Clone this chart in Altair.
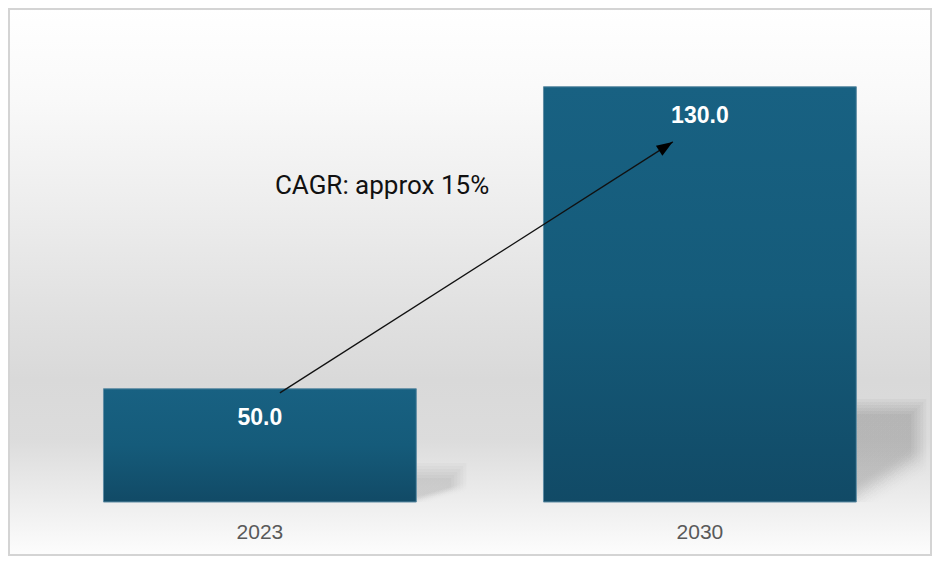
import altair as alt
import pandas as pd

# ---- data ----
years = ["2023", "2030"]
values = [50.0, 130.0]
value_labels = ["50.0", "130.0"]
base_values = [20.0, 20.0]
y_domain = [20, 150.86]

# soft shadow behind each bar (tops in value units, stacked blur layers)
shadow_tops_2023 = [30.33, 29.54, 28.74, 27.95, 27.15, 26.36]
shadow_tops_2030 = [47.28, 46.49, 45.70, 44.90, 44.11, 43.31]
shadow_widths_2023 = [50, 47, 44, 41, 38, 35]
shadow_widths_2030 = [70, 67, 64, 61, 58, 55]

arrow_years = ["2023", "2030"]
arrow_values = [48.9, 115.4]
arrow_head_value = 114.2

cagr_label = "CAGR: approx 15%"
cagr_year = "2023"
cagr_value = 103.6

W, H, PB = 924, 494, 54
HALF_BAND = 156.4

bars_df = pd.DataFrame({"year": years, "value": values, "label": value_labels, "base": base_values})
arrow_df = pd.DataFrame({"x1": [arrow_years[0]], "x2": [arrow_years[1]],
                         "y1": [arrow_values[0]], "y2": [arrow_values[1]]})
head_df = pd.DataFrame({"year": [arrow_years[1]], "value": [arrow_head_value]})
cagr_df = pd.DataFrame({"year": [cagr_year], "value": [cagr_value], "text": [cagr_label]})
one = pd.DataFrame({"k": [0]})

xs = alt.Scale(domain=years, range=[0, 943.8], paddingInner=0.289, paddingOuter=0.217)
ys = alt.Scale(domain=y_domain, zero=False, nice=False)

bg_grad = alt.Gradient(
    gradient="linear", x1=0, x2=0, y1=0, y2=1,
    stops=[
        alt.GradientStop(color="#ffffff", offset=0),
        alt.GradientStop(color="#f9f9f9", offset=0.168),
        alt.GradientStop(color="#eeeeee", offset=0.35),
        alt.GradientStop(color="#e2e2e2", offset=0.533),
        alt.GradientStop(color="#d9d9d9", offset=0.679),
        alt.GradientStop(color="#dcdcdc", offset=0.788),
        alt.GradientStop(color="#ededed", offset=0.898),
        alt.GradientStop(color="#fdfdfd", offset=1),
    ],
)
bar_grad = alt.Gradient(
    gradient="linear", x1=0, x2=0, y1=0, y2=1,
    stops=[alt.GradientStop(color="#186182", offset=0),
           alt.GradientStop(color="#155b7a", offset=0.5),
           alt.GradientStop(color="#114a66", offset=1)],
)


def shadow_grad(alpha, f0, f1):
    return alt.Gradient(
        gradient="linear", x1=0, y1=0, x2=0.4, y2=1,
        stops=[alt.GradientStop(color=f"rgba(0,0,0,{alpha})", offset=0),
               alt.GradientStop(color=f"rgba(0,0,0,{alpha})", offset=f0),
               alt.GradientStop(color="rgba(0,0,0,0)", offset=f1)],
    )


fades = [(0.76, 0.98), (0.74, 0.95), (0.72, 0.92), (0.70, 0.89), (0.68, 0.86), (0.66, 0.83)]


def shadow_layers(year, tops, widths, alpha):
    out = []
    for top, w, (f0, f1) in zip(tops, widths, fades):
        df = pd.DataFrame({"year": [year], "top": [top], "base": [base_values[0]]})
        out.append(alt.Chart(df).mark_bar(
            width=w, xOffset=HALF_BAND + w / 2, fill=shadow_grad(alpha, f0, f1)).encode(
            x=alt.X("year:N", scale=xs), y=alt.Y("top:Q", scale=ys, axis=None), y2="base:Q"))
    return out


background = alt.Chart(one).mark_rect(fill=bg_grad).encode(
    x=alt.value(0), x2=alt.value(W), y=alt.value(0), y2=alt.value(H + PB))

border = alt.Chart(one).mark_rect(fillOpacity=0, stroke="#d4d4d4", strokeWidth=2).encode(
    x=alt.value(1), x2=alt.value(W - 1), y=alt.value(1), y2=alt.value(H + PB - 1))

xenc = alt.X("year:N", scale=xs, axis=alt.Axis(
    title=None, domain=False, ticks=False, grid=False, labelAngle=0,
    labelAlign="center", labelFontSize=21, labelColor="#595959",
    labelFont="Liberation Sans", labelPadding=30, zindex=1))

bars = alt.Chart(bars_df).mark_bar(fill=bar_grad, stroke="#5f8ca4", strokeWidth=1).encode(
    x=xenc, y=alt.Y("value:Q", scale=ys, axis=None), y2="base:Q")

vlabels = alt.Chart(bars_df).mark_text(
    color="white", fontWeight="bold", fontSize=23, font="Liberation Sans",
    baseline="middle", dy=29).encode(
    x=alt.X("year:N", scale=xs), y=alt.Y("value:Q", scale=ys), text="label:N")

arrow = alt.Chart(arrow_df).mark_rule(color="#111111", strokeWidth=1.3, xOffset=20, x2Offset=-27).encode(
    x=alt.X("x1:N", scale=xs), x2="x2:N",
    y=alt.Y("y1:Q", scale=ys), y2="y2:Q")

head = alt.Chart(head_df).mark_point(
    shape="M-0.75,1H0.75L0,-1Z", filled=True, color="#000000", opacity=1,
    size=256, angle=57.4, xOffset=-34, strokeWidth=0).encode(
    x=alt.X("year:N", scale=xs), y=alt.Y("value:Q", scale=ys))

cagr = alt.Chart(cagr_df).mark_text(
    color="#111111", fontSize=26, font="Roboto", align="left", baseline="middle", dx=15).encode(
    x=alt.X("year:N", scale=xs), y=alt.Y("value:Q", scale=ys), text="text:N")

layers = [background, border]
layers += shadow_layers("2023", shadow_tops_2023, shadow_widths_2023, 0.022)
layers += shadow_layers("2030", shadow_tops_2030, shadow_widths_2030, 0.03)
layers += [bars, vlabels, arrow, head, cagr]

chart = alt.layer(*layers).properties(
    width=W, height=H, autosize="none",
    padding={"left": 0, "top": 0, "right": 0, "bottom": PB},
    background="white",
).configure_view(stroke=None)

chart.save("out.html", embed_options={"renderer": "svg", "actions": False})
